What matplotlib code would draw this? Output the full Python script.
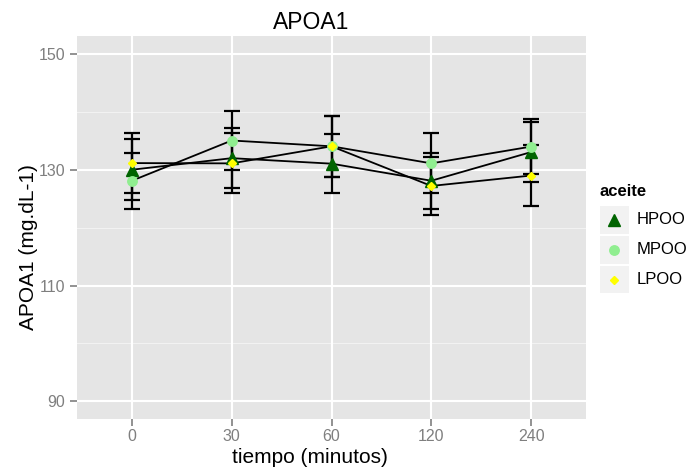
import matplotlib
matplotlib.use('Agg')
import matplotlib.pyplot as plt
from matplotlib.patches import Rectangle
import numpy as np

plt.rcParams['font.family'] = ['Liberation Sans', 'DejaVu Sans']

tiempo = ['0', '30', '60', '120', '240']
grupos = ['HPOO', 'MPOO', 'LPOO']

hpoo = [130.0, 132.0, 131.05, 128.1, 133.05]
hpoo_err = [5.25, 5.2, 5.15, 4.8, 5.25]
mpoo = [128.1, 135.05, 134.05, 131.1, 134.0]
mpoo_err = [4.8, 5.15, 5.25, 5.2, 4.8]
lpoo = [131.15, 131.1, 134.05, 127.2, 129.0]
lpoo_err = [5.25, 5.2, 5.25, 5.05, 5.2]

series = [hpoo, mpoo, lpoo]
errores = [hpoo_err, mpoo_err, lpoo_err]
colores = ['#006400', '#90EE90', '#FFFF00']
marcas = ['^', 'o', 'D']
tamanos = [8.5, 6.8, 4.2]

W, H = 690, 470
fig = plt.figure(figsize=(6.9, 4.7), dpi=100)
ax = fig.add_axes([77 / W, 1 - 418.7 / H, (586 - 77) / W, (418.7 - 36) / H])
ax.set_facecolor('#E5E5E5')
for s in ax.spines.values():
    s.set_visible(False)

x = np.arange(len(tiempo))
ax.set_xlim(-0.55, len(tiempo) - 1 + 0.55)
ax.set_ylim(87.0, 153.1)

# grid
for v in [100, 120, 140]:
    ax.axhline(v, color='#F2F2F2', lw=0.8, zorder=0)
for v in [90, 110, 130, 150]:
    ax.axhline(v, color='white', lw=1.5, zorder=0)
for v in x:
    ax.axvline(v, color='white', lw=1.5, zorder=0)

# error bars, lines, points
for ys, es in zip(series, errores):
    ax.errorbar(x, ys, yerr=es, fmt='none', ecolor='black', elinewidth=1.6,
                capsize=6, capthick=1.6, zorder=2)
for ys in series:
    ax.plot(x, ys, color='black', lw=1.3, zorder=3)
for ys, c, m, ms in zip(series, colores, marcas, tamanos):
    ax.plot(x, ys, ls='none', marker=m, color=c, markersize=ms, mec=c, zorder=4)

ax.set_xticks(x)
ax.set_xticklabels(tiempo)
ax.set_yticks([90, 110, 130, 150])
ax.tick_params(axis='both', colors='#7F7F7F', labelcolor='#7F7F7F',
               labelsize=11.5, length=5, width=1.2)
ax.tick_params(axis='y', pad=3.5)
ax.tick_params(axis='x', pad=2.5)

fig.text(311 / W, 1 - 29 / H, 'APOA1', fontsize=16.5, ha='center', va='baseline')
fig.text(310 / W, 1 - 463 / H, 'tiempo (minutos)', fontsize=15, ha='center', va='baseline')
fig.text(28.5 / W, 1 - 247.5 / H, 'APOA1 (mg.dL-1)', fontsize=15, rotation=90,
         ha='center', va='center')

# legend
lax = fig.add_axes([600 / W, 1 - 293 / H, 29 / W, 87 / H])
lax.set_xlim(0, 29)
lax.set_ylim(87, 0)
lax.axis('off')
for i, (g, c, m, ms) in enumerate(zip(grupos, colores, marcas, tamanos)):
    y0 = i * 30
    lax.add_patch(Rectangle((0, y0), 28.5, 27.5, facecolor='#F2F2F2', edgecolor='none'))
    lax.plot([14.3], [y0 + 13.7], marker=m, color=c, mec=c, markersize=ms)
    fig.text(637 / W, 1 - (219.5 + 30 * i) / H, g, fontsize=12, ha='left', va='center')
fig.text(600 / W, 1 - 191.7 / H, 'aceite', fontsize=12, fontweight='bold',
         ha='left', va='center')

fig.savefig('out.png', dpi=100)
